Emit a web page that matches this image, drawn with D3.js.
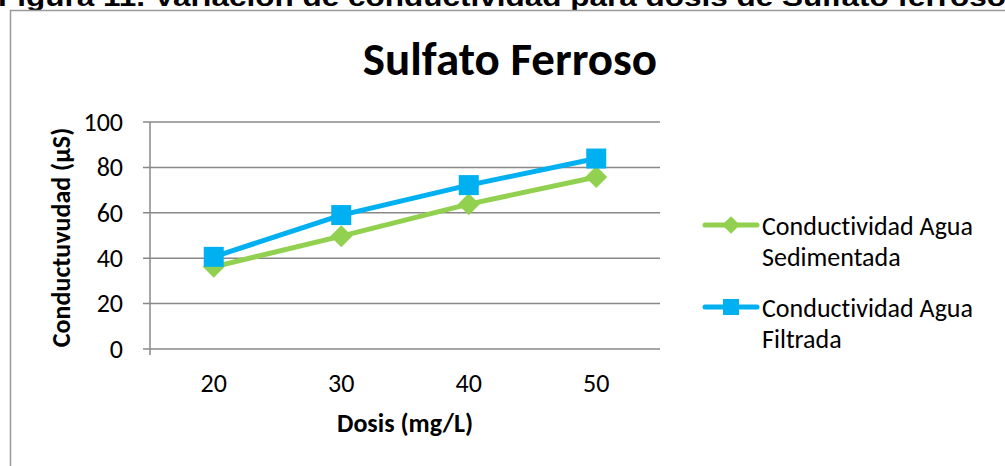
<!DOCTYPE html>
<html><head><meta charset="utf-8">
<script src="https://cdn.jsdelivr.net/npm/d3@7"></script>
<style>body{margin:0;background:#fff}svg{display:block}text{font-variant-ligatures:none;font-feature-settings:"liga" 0}</style>
</head><body>
<script>
const categories = ["20","30","40","50"];
const sedimentada = [36.2, 49.7, 63.8, 75.8];
const filtrada = [40.6, 59.0, 72.2, 83.9];
const yTicks = [0,20,40,60,80,100];
const seriesNames = ["Conductividad Agua Sedimentada","Conductividad Agua Filtrada"];
const title = "Sulfato Ferroso";
const caption = "Figura 11. Variación de conductividad para dosis de Sulfato ferroso";
const xLabel = "Dosis (mg/L)";
const yLabel = "Conductuvudad (µS)";

(function(){
const W = 1005, H = 466;
const svg = d3.select("body").append("svg").attr("width", W).attr("height", H);
const font = "Carlito, Lato, 'Open Sans', sans-serif";

// caption (cut off at top, as in the source image)
svg.append("text").attr("x", -2).attr("y", 6)
  .attr("font-family", "'Liberation Sans', Arial, sans-serif").attr("font-weight", "bold")
  .attr("font-size", 26).attr("textLength", 1008).attr("lengthAdjust", "spacingAndGlyphs")
  .text(caption);

// chart frame
svg.append("rect").attr("x", 10.5).attr("y", 10.5).attr("width", 1010).attr("height", 480)
  .attr("fill", "none").attr("stroke", "#9a9a9a").attr("stroke-width", 1.5);

const pl = 150, pr = 660, pt = 122, pb = 349;
const x = d3.scaleBand().domain(categories).range([pl, pr]);
const y = d3.scaleLinear().domain([0, 100]).range([pb, pt]);
const gridColor = "#888888";

// gridlines
svg.append("g").selectAll("line").data(yTicks).join("line")
  .attr("x1", pl - 7).attr("x2", pr).attr("y1", d => y(d)).attr("y2", d => y(d))
  .attr("stroke", gridColor).attr("stroke-width", 1.5);

// y axis line
svg.append("line").attr("x1", pl).attr("x2", pl).attr("y1", pt).attr("y2", pb + 6)
  .attr("stroke", gridColor).attr("stroke-width", 1.5);

// y tick labels
const yAxis = d3.axisLeft(y).tickValues(yTicks).tickSize(0).tickPadding(27);
const gy = svg.append("g").attr("transform", `translate(${pl},0)`).call(yAxis);
gy.select(".domain").remove();
gy.selectAll("text").attr("font-family", font).attr("font-size", 26).attr("fill", "#000");

// x tick labels
const xAxis = d3.axisBottom(x).tickSize(0).tickPadding(25);
const gx = svg.append("g").attr("transform", `translate(0,${pb})`).call(xAxis);
gx.select(".domain").remove();
gx.selectAll("text").attr("font-family", font).attr("font-size", 26).attr("fill", "#000");

// title
svg.append("text").attr("x", 510).attr("y", 75).attr("text-anchor", "middle")
  .attr("font-family", font).attr("font-weight", "bold").attr("font-size", 47).text(title);

// axis titles
svg.append("text").attr("x", (pl + pr) / 2).attr("y", 432).attr("text-anchor", "middle")
  .attr("font-family", font).attr("font-weight", "bold").attr("font-size", 26).text(xLabel);
svg.append("text").attr("transform", `translate(70,${(pt + pb) / 2 + 2}) rotate(-90)`)
  .attr("text-anchor", "middle").attr("font-family", font).attr("font-weight", "bold")
  .attr("font-size", 26).text(yLabel);

const cx = d => x(d) + x.bandwidth() / 2;
const line = d3.line().x(d => cx(d.c)).y(d => y(d.v));
const series = [
  {name: seriesNames[0], values: sedimentada, color: "#92D050", shape: "diamond"},
  {name: seriesNames[1], values: filtrada, color: "#00B0F0", shape: "square"}
];
function marker(g, shape, color, px, py, r) {
  if (shape === "square") {
    g.append("rect").attr("x", px - r).attr("y", py - r).attr("width", 2 * r).attr("height", 2 * r).attr("fill", color);
  } else {
    const d = r * 1.1;
    g.append("path").attr("d", `M${px},${py - d}L${px + d},${py}L${px},${py + d}L${px - d},${py}Z`).attr("fill", color);
  }
}
series.forEach(s => {
  const pts = categories.map((c, i) => ({c, v: s.values[i]}));
  const g = svg.append("g");
  g.append("path").datum(pts).attr("d", line).attr("fill", "none")
    .attr("stroke", s.color).attr("stroke-width", 5).attr("stroke-linejoin", "round").attr("stroke-linecap", "round");
  pts.forEach(p => marker(g, s.shape, s.color, cx(p.c), y(p.v), 10));
});

// legend
const legendY = [225, 307];
series.forEach((s, i) => {
  const g = svg.append("g");
  const ly = legendY[i];
  g.append("line").attr("x1", 705).attr("x2", 757).attr("y1", ly).attr("y2", ly)
    .attr("stroke", s.color).attr("stroke-width", 5).attr("stroke-linecap", "round");
  marker(g, s.shape, s.color, 731, ly, 8);
  const words = s.name.split(" ");
  const l1 = words.slice(0, 2).join(" "), l2 = words.slice(2).join(" ");
  const t = g.append("text").attr("font-family", font).attr("font-size", 26).attr("fill", "#000");
  t.append("tspan").attr("x", 762).attr("y", ly + 10).text(l1);
  t.append("tspan").attr("x", 762).attr("y", ly + 41).text(l2);
});
})();
</script>
</body></html>
